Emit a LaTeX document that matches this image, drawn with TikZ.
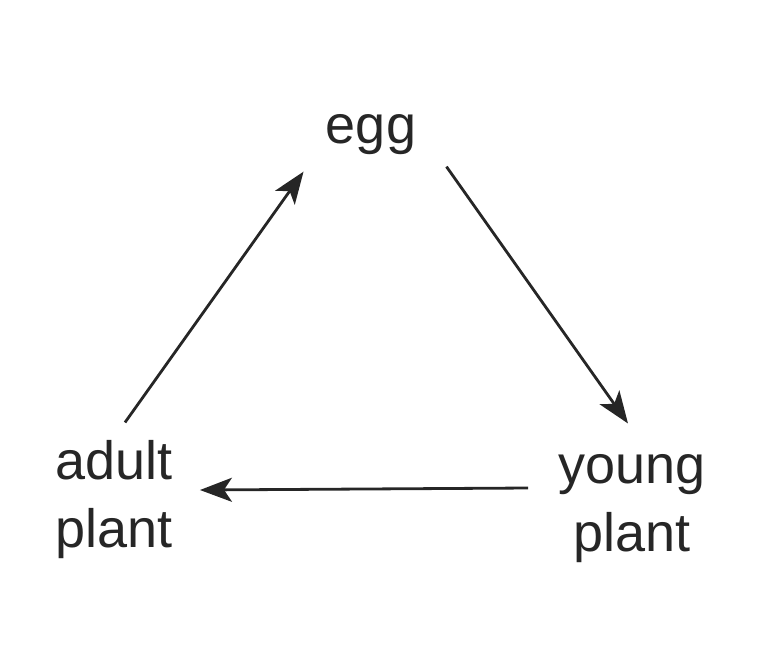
\documentclass[tikz,border=0pt]{standalone}
\usepackage{fontspec}
\setmainfont{Liberation Sans}
\usetikzlibrary{calc,arrows.meta}

\begin{document}
\begin{tikzpicture}[x=0.5pt,y=-0.5pt,
 lbl/.style={inner sep=0pt,text=black!85,font=\fontsize{27}{34}\selectfont},
 ar/.style={-{Stealth[length=16pt,width=12pt,inset=4pt]},line width=1.4pt,black!85}]
\useasboundingbox (0,0) rectangle (777,666);
\node[lbl,anchor=base] (egg) at (371,143) {egg};
\node[lbl,align=left] (adult) at (114,500) {adult\\plant};
\node[lbl,align=center] (young) at (632,509) {young\\plant};
% cycle
\draw[ar] ($(adult.north)+(11,-18)$) -- ($(egg.south west)+(-22,17)$);
\draw[ar] ($(egg.south east)+(30,12)$) -- ($(young.north)+(-4,-31)$);
\draw[ar] ($(young.west)+(-30,-21)$) -- ($(adult.east)+(27,-10)$);
\end{tikzpicture}
\end{document}
